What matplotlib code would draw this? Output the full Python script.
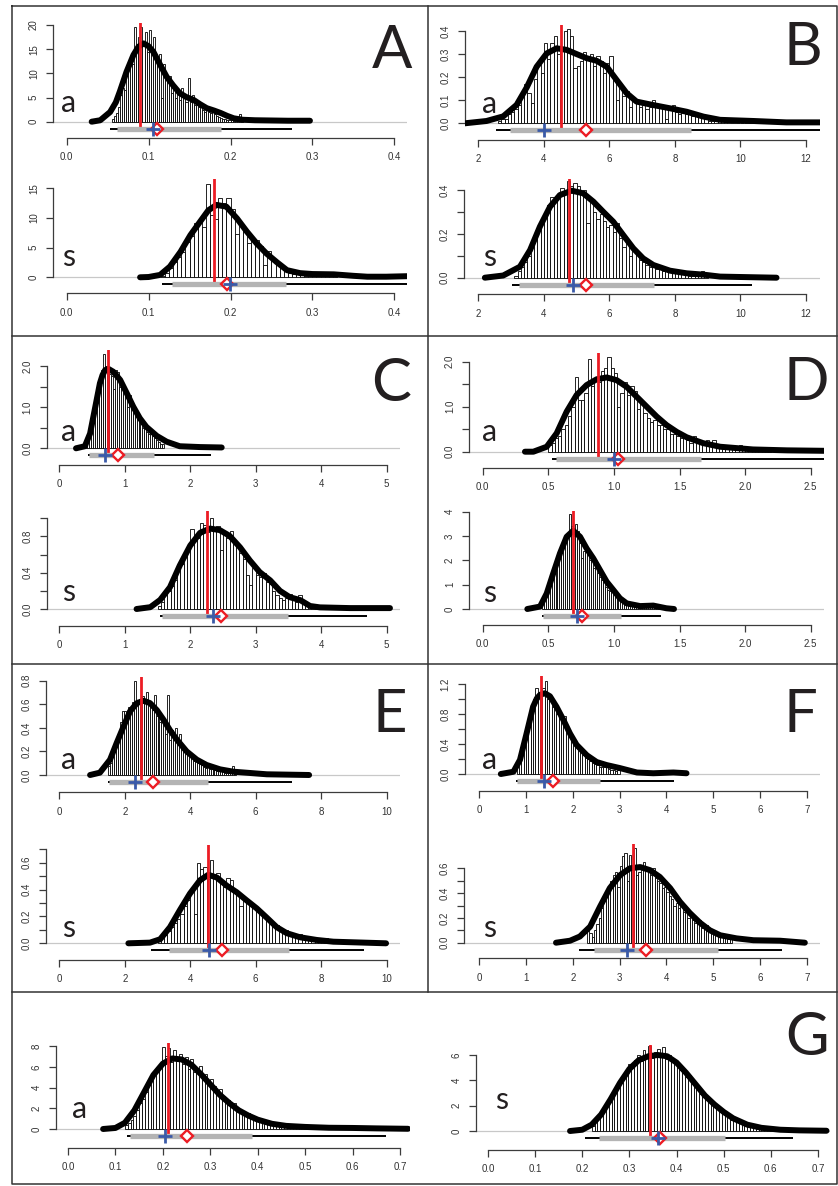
import matplotlib
matplotlib.use("Agg")
import matplotlib.pyplot as plt

plt.rcParams['font.family'] = ['Liberation Sans', 'DejaVu Sans']

W, H = 838, 1186

# ---------------- histograms: first bin edge, bin width, bar heights ----------------
Aa_start, Aa_width = 0.055, 0.0025
Aa_heights = [0.5, 1.2, 1.8, 3.0, 5.5, 7.0, 6.5, 9.5, 11.0, 13.0,
              12.0, 19.5, 15.0, 17.5, 19.5, 16.0, 18.5, 14.5, 19.0, 15.0,
              17.5, 13.0, 12.5, 14.0, 5.0, 12.0, 9.0, 8.5, 9.5, 6.0,
              7.5, 5.0, 6.5, 4.5, 7.0, 5.5, 4.0, 9.0, 4.0, 5.5,
              3.5, 4.5, 3.0, 3.0, 2.5, 2.0, 2.5, 2.0, 1.8, 2.2,
              1.5, 1.2, 1.0, 0.8, 0.6, 0.5, 0.4, 0.3, 0.3, 0.2,
              0.2, 0.1, 1.5, 0.2]
As_start, As_width = 0.115, 0.005
As_heights = [0.2, 0.8, 1.5, 2.5, 3.5, 4.2, 6.0, 7.0, 9.2, 9.5,
              8.4, 15.8, 10.5, 9.8, 13.3, 12.5, 13.3, 11.5, 7.3, 9.0,
              8.0, 5.7, 6.7, 6.3, 5.2, 2.0, 4.4, 3.0, 2.5, 1.5,
              1.0, 0.8, 0.5, 0.5, 0.4, 0.3, 0.3, 0.2, 0.3, 0.2,
              0.2, 0.2, 0.5]
Ba_start, Ba_width = 2.6, 0.1
Ba_heights = [0.01, 0.02, 0.02, 0.04, 0.05, 0.06, 0.08, 0.12, 0.17, 0.13,
              0.09, 0.19, 0.26, 0.22, 0.35, 0.28, 0.35, 0.38, 0.30, 0.33,
              0.40, 0.41, 0.38, 0.24, 0.25, 0.27, 0.31, 0.29, 0.30, 0.25,
              0.29, 0.27, 0.22, 0.26, 0.29, 0.20, 0.10, 0.17, 0.12, 0.14,
              0.07, 0.10, 0.09, 0.07, 0.08, 0.06, 0.07, 0.10, 0.07, 0.08,
              0.06, 0.02, 0.07, 0.08, 0.05, 0.04, 0.06, 0.04, 0.05, 0.03,
              0.03, 0.03, 0.03, 0.02, 0.01, 0.01, 0.01, 0.01, 0.01, 0.01,
              0.01, 0.0, 0.01, 0.0, 0.0, 0.0, 0.02, 0.01, 0.0, 0.02]
Bs_start, Bs_width = 3.1, 0.1
Bs_heights = [0.01, 0.03, 0.05, 0.07, 0.10, 0.14, 0.18, 0.22, 0.25, 0.29,
              0.33, 0.37, 0.36, 0.37, 0.41, 0.40, 0.44, 0.42, 0.43, 0.42,
              0.38, 0.40, 0.25, 0.35, 0.30, 0.27, 0.29, 0.26, 0.23, 0.24,
              0.21, 0.25, 0.18, 0.14, 0.16, 0.10, 0.13, 0.12, 0.08, 0.07,
              0.06, 0.05, 0.05, 0.04, 0.04, 0.03, 0.03, 0.03, 0.02, 0.03,
              0.02, 0.02, 0.02, 0.01, 0.01, 0.01, 0.01, 0.03, 0.01]
Ca_start, Ca_width = 0.4, 0.03
Ca_heights = [0.1, 0.3, 0.5, 0.8, 1.0, 1.3, 1.5, 1.7, 1.9, 2.3,
              2.0, 1.9, 1.8, 1.75, 1.45, 1.9, 1.85, 1.5, 1.5, 1.35,
              1.3, 1.0, 1.3, 1.0, 0.85, 0.9, 0.7, 0.75, 0.6, 0.5,
              0.5, 0.4, 0.35, 0.35, 0.3, 0.25, 0.2, 0.15, 0.1, 0.1]
Cs_start, Cs_width = 1.5, 0.05
Cs_heights = [0.03, 0.08, 0.15, 0.2, 0.25, 0.32, 0.42, 0.5, 0.6, 0.7,
              0.88, 0.8, 0.78, 0.95, 0.93, 0.85, 1.0, 0.88, 0.92, 0.65,
              0.85, 0.78, 0.86, 0.72, 0.7, 0.62, 0.55, 0.38, 0.26, 0.45,
              0.37, 0.35, 0.4, 0.3, 0.28, 0.2, 0.15, 0.12, 0.1, 0.12,
              0.17, 0.1, 0.08, 0.15, 0.06, 0.04, 0.03, 0.02, 0.02, 0.01,
              0.01, 0.01, 0.02]
Da_start, Da_width = 0.5, 0.025
Da_heights = [0.15, 0.2, 0.3, 0.35, 0.5, 0.6, 0.8, 1.0, 1.65, 1.15,
              1.15, 1.3, 2.05, 1.45, 1.6, 1.55, 1.8, 1.85, 2.1, 1.85,
              1.75, 1.0, 1.3, 1.55, 1.25, 1.45, 1.35, 0.95, 1.1, 0.85,
              0.75, 0.65, 0.7, 0.6, 0.6, 0.5, 0.5, 0.4, 0.4, 0.35,
              0.3, 0.3, 0.25, 0.2, 0.35, 0.25, 0.2, 0.15, 0.25, 0.12,
              0.25, 0.1, 0.12, 0.08, 0.08, 0.06, 0.06, 0.05, 0.15, 0.05,
              0.04, 0.03, 0.03, 0.03, 0.02, 0.02, 0.02, 0.08]
Ds_start, Ds_width = 0.45, 0.015
Ds_heights = [0.3, 0.4, 0.6, 0.8, 1.0, 1.3, 1.5, 1.8, 2.0, 2.3,
              2.5, 2.8, 2.8, 3.0, 3.9, 3.4, 3.0, 3.5, 3.2, 2.7,
              2.1, 2.4, 2.4, 2.3, 2.0, 2.1, 1.7, 1.8, 1.5, 1.3,
              1.2, 1.1, 0.9, 0.8, 0.75, 0.7, 0.6, 0.5, 0.55, 0.4,
              0.35, 0.3, 0.3, 0.25, 0.3, 0.2, 0.2, 0.25, 0.15, 0.15,
              0.15, 0.12, 0.12, 0.12, 0.1, 0.1, 0.15, 0.1, 0.08, 0.05]
Ea_start, Ea_width = 1.5, 0.06
Ea_heights = [0.08, 0.1, 0.15, 0.2, 0.28, 0.35, 0.45, 0.54, 0.54, 0.5,
              0.58, 0.55, 0.62, 0.8, 0.6, 0.62, 0.58, 0.67, 0.62, 0.7,
              0.6, 0.62, 0.55, 0.68, 0.5, 0.55, 0.45, 0.5, 0.42, 0.35,
              0.68, 0.3, 0.38, 0.3, 0.4, 0.28, 0.35, 0.25, 0.22, 0.2,
              0.18, 0.16, 0.17, 0.12, 0.12, 0.1, 0.09, 0.1, 0.07, 0.06,
              0.1, 0.05, 0.05, 0.04, 0.04, 0.03, 0.03, 0.06, 0.03, 0.02,
              0.02, 0.02, 0.02, 0.08, 0.01]
Es_start, Es_width = 3.0, 0.1
Es_heights = [0.02, 0.04, 0.06, 0.09, 0.12, 0.15, 0.18, 0.22, 0.28, 0.32,
              0.4, 0.22, 0.6, 0.55, 0.57, 0.48, 0.62, 0.5, 0.52, 0.45,
              0.42, 0.49, 0.47, 0.4, 0.38, 0.28, 0.33, 0.3, 0.3, 0.26,
              0.25, 0.22, 0.2, 0.18, 0.16, 0.14, 0.14, 0.1, 0.09, 0.1,
              0.07, 0.06, 0.05, 0.07, 0.04, 0.04, 0.03, 0.03, 0.02, 0.02,
              0.02, 0.04, 0.01, 0.01, 0.01, 0.01, 0.01, 0.01, 0.01, 0.01,
              0.01, 0.02, 0.01, 0.01]
Fa_start, Fa_width = 0.8, 0.05
Fa_heights = [0.1, 0.2, 0.3, 0.45, 0.55, 0.7, 0.9, 1.0, 1.15, 1.05,
              1.1, 1.15, 1.25, 1.0, 0.98, 0.9, 0.88, 0.8, 0.78, 0.75,
              0.78, 0.6, 0.55, 0.5, 0.45, 0.38, 0.35, 0.3, 0.25, 0.22,
              0.2, 0.18, 0.15, 0.14, 0.12, 0.1, 0.1, 0.09, 0.13, 0.07,
              0.06, 0.05, 0.04, 0.05]
Fs_start, Fs_width = 2.3, 0.05
Fs_heights = [0.12, 0.08, 0.05, 0.1, 0.15, 0.2, 0.28, 0.35, 0.42, 0.45,
              0.5, 0.55, 0.57, 0.45, 0.62, 0.7, 0.72, 0.5, 0.71, 0.6,
              0.76, 0.55, 0.57, 0.6, 0.65, 0.58, 0.6, 0.55, 0.6, 0.52,
              0.5, 0.48, 0.44, 0.45, 0.41, 0.38, 0.35, 0.3, 0.32, 0.28,
              0.3, 0.25, 0.28, 0.2, 0.25, 0.18, 0.16, 0.15, 0.18, 0.12,
              0.11, 0.14, 0.1, 0.09, 0.1, 0.07, 0.06, 0.06, 0.05, 0.04,
              0.03, 0.03]
Ga_start, Ga_width = 0.12, 0.006
Ga_heights = [0.4, 0.6, 0.9, 1.3, 1.8, 2.5, 2.9, 3.6, 4.2, 4.6,
              5.2, 5.5, 6.2, 7.9, 7.0, 7.8, 6.5, 7.6, 6.8, 7.2,
              6.3, 6.9, 5.8, 6.7, 5.5, 5.9, 6.1, 5.0, 5.3, 4.6,
              4.8, 4.1, 3.8, 3.9, 3.2, 3.0, 2.8, 2.3, 2.5, 1.9,
              1.8, 1.6, 1.3, 1.5, 1.1, 1.0, 0.9, 0.8, 1.0, 0.6,
              0.6, 0.5, 0.5, 0.4, 0.5, 0.3, 0.3, 0.3, 0.3, 0.2,
              0.2, 0.2, 0.2, 0.2, 0.1, 0.2, 0.1, 0.1, 0.1, 0.1,
              0.1, 0.1, 0.1, 0.1, 0.1, 0.1, 0.0, 0.1, 0.0, 0.1]
Gs_start, Gs_width = 0.22, 0.006
Gs_heights = [0.4, 0.7, 1.0, 1.3, 1.7, 2.1, 2.5, 2.9, 3.3, 3.7,
              4.0, 4.6, 4.8, 5.3, 5.2, 5.6, 6.0, 5.5, 6.4, 6.0,
              6.7, 5.8, 6.2, 6.5, 5.9, 6.6, 5.7, 6.0, 5.5, 5.3,
              5.2, 4.8, 4.6, 4.3, 4.4, 3.8, 3.5, 3.3, 2.9, 2.8,
              2.5, 2.3, 2.1, 1.9, 1.7, 1.5, 1.4, 1.2, 1.1, 0.9,
              0.8, 0.7, 0.6, 0.5, 0.5, 0.4, 0.3, 0.3, 0.3, 0.2,
              0.2, 0.2, 0.1, 0.1, 0.1, 0.1, 0.1, 0.1, 0.1, 0.1,
              0.1, 0.1]

# ---------------- density curves ----------------
Aa_curve_x = [0.0305, 0.041, 0.053, 0.060, 0.065, 0.073, 0.0815, 0.0876, 0.094, 0.100, 0.106, 0.114,
              0.122, 0.130, 0.138, 0.146, 0.155, 0.163, 0.171, 0.180, 0.188, 0.196, 0.204, 0.215,
              0.230, 0.250, 0.270, 0.297]
Aa_curve_y = [0.0, 0.3, 2.0, 4.0, 6.3, 10.3, 13.8, 15.5, 16.2, 15.6, 14.4, 11.8,
              9.3, 7.5, 5.9, 5.1, 4.5, 3.6, 2.8, 2.3, 1.8, 1.2, 0.7, 0.4,
              0.3, 0.25, 0.2, 0.2]
As_curve_x = [0.0896, 0.10, 0.114, 0.126, 0.139, 0.151, 0.163, 0.173, 0.183, 0.195, 0.208, 0.220,
              0.232, 0.244, 0.257, 0.269, 0.285, 0.30, 0.326, 0.35, 0.367, 0.39, 0.42]
As_curve_y = [0.0, 0.05, 0.4, 1.8, 4.3, 7.1, 9.4, 11.3, 12.2, 11.9, 9.9, 7.7,
              5.7, 4.0, 2.5, 1.2, 0.7, 0.55, 0.5, 0.25, 0.1, 0.1, 0.2]
Ba_curve_x = [1.59, 2.25, 2.76, 3.17, 3.48, 3.78, 4.09, 4.39, 4.70, 5.0, 5.31, 5.61,
              5.92, 6.22, 6.53, 6.83, 7.34, 7.85, 8.36, 8.87, 9.38, 10.4, 11.4, 12.5]
Ba_curve_y = [0.0, 0.01, 0.03, 0.08, 0.156, 0.245, 0.303, 0.325, 0.318, 0.30, 0.282, 0.271,
              0.245, 0.188, 0.13, 0.094, 0.079, 0.065, 0.05, 0.029, 0.015, 0.01, 0.004, 0.004]
Bs_curve_x = [2.2, 2.76, 3.27, 3.58, 3.88, 4.19, 4.49, 4.85, 5.2, 5.51, 5.81, 6.12,
              6.42, 6.73, 7.03, 7.34, 7.85, 8.36, 8.87, 9.38, 10.4, 11.1]
Bs_curve_y = [0.0, 0.01, 0.05, 0.126, 0.233, 0.324, 0.377, 0.397, 0.385, 0.347, 0.301, 0.255,
              0.195, 0.134, 0.088, 0.058, 0.032, 0.02, 0.014, 0.005, 0.002, 0.0]
Ca_curve_x = [0.255, 0.39, 0.47, 0.55, 0.62, 0.66, 0.70, 0.75, 0.825, 0.93, 1.03, 1.13, 1.23,
              1.33, 1.49, 1.64, 1.84, 2.15, 2.48]
Ca_curve_y = [0.0, 0.05, 0.36, 1.01, 1.58, 1.78, 1.9, 1.93, 1.86, 1.66, 1.34, 1.01, 0.73,
              0.52, 0.3, 0.16, 0.05, 0.03, 0.02]
Cs_curve_x = [1.18, 1.39, 1.54, 1.69, 1.84, 2.0, 2.15, 2.30, 2.45, 2.6, 2.76, 2.91,
              3.06, 3.22, 3.37, 3.52, 3.68, 3.83, 3.98, 4.44, 5.05]
Cs_curve_y = [0.0, 0.02, 0.1, 0.24, 0.48, 0.70, 0.84, 0.887, 0.87, 0.807, 0.68, 0.535,
              0.407, 0.316, 0.2, 0.13, 0.098, 0.033, 0.018, 0.01, 0.01]
Da_curve_x = [0.322, 0.386, 0.488, 0.564, 0.64, 0.716, 0.792, 0.869, 0.945, 1.021, 1.098, 1.174,
              1.25, 1.326, 1.402, 1.479, 1.555, 1.68, 1.81, 2.06, 2.32, 2.6]
Da_curve_y = [0.0, 0.0, 0.11, 0.41, 0.89, 1.26, 1.48, 1.61, 1.65, 1.59, 1.44, 1.22,
              1.0, 0.78, 0.59, 0.44, 0.32, 0.19, 0.11, 0.05, 0.03, 0.02]
Ds_curve_x = [0.34, 0.437, 0.488, 0.538, 0.589, 0.64, 0.69, 0.742, 0.792, 0.843, 0.894, 0.945,
              0.996, 1.046, 1.098, 1.2, 1.3, 1.4, 1.458]
Ds_curve_y = [0.0, 0.1, 0.64, 1.47, 2.29, 2.97, 3.22, 2.97, 2.49, 2.08, 1.6, 1.12,
              0.78, 0.44, 0.23, 0.12, 0.14, 0.03, 0.0]
Ea_curve_x = [0.94, 1.24, 1.55, 1.75, 1.96, 2.16, 2.37, 2.57, 2.77, 2.98, 3.18, 3.38,
              3.59, 3.89, 4.2, 4.5, 4.91, 5.32, 6.34, 7.63]
Ea_curve_y = [0.0, 0.02, 0.13, 0.27, 0.41, 0.54, 0.61, 0.63, 0.61, 0.55, 0.47, 0.38,
              0.30, 0.2, 0.13, 0.085, 0.048, 0.028, 0.006, 0.0]
Es_curve_x = [2.11, 2.77, 3.08, 3.38, 3.69, 3.99, 4.3, 4.55, 4.81, 5.11, 5.42, 5.72,
              6.03, 6.34, 6.64, 6.95, 7.35, 7.86, 8.37, 9.98]
Es_curve_y = [0.0, 0.005, 0.03, 0.12, 0.25, 0.37, 0.47, 0.51, 0.49, 0.43, 0.38, 0.32,
              0.26, 0.19, 0.12, 0.075, 0.045, 0.025, 0.012, 0.0]
Fa_curve_x = [0.46, 0.73, 0.87, 1.01, 1.15, 1.23, 1.30, 1.40, 1.51, 1.65, 1.80, 1.94, 2.08,
              2.30, 2.51, 2.72, 3.0, 3.37, 3.72, 4.15, 4.43]
Fa_curve_y = [0.0, 0.03, 0.19, 0.54, 0.9, 1.01, 1.06, 1.08, 1.04, 0.9, 0.72, 0.54, 0.39,
              0.25, 0.16, 0.12, 0.08, 0.02, 0.01, 0.02, 0.01]
Fs_curve_x = [1.64, 1.94, 2.15, 2.37, 2.58, 2.79, 3.01, 3.22, 3.44, 3.65, 3.86, 4.08,
              4.29, 4.5, 4.72, 4.93, 5.15, 5.5, 5.86, 6.43, 6.96]
Fs_curve_y = [0.0, 0.016, 0.05, 0.13, 0.29, 0.44, 0.545, 0.6, 0.61, 0.585, 0.53, 0.44,
              0.33, 0.24, 0.16, 0.10, 0.06, 0.035, 0.02, 0.016, 0.0]
Ga_curve_x = [0.074, 0.1, 0.12, 0.14, 0.16, 0.18, 0.2, 0.22, 0.24, 0.26, 0.28, 0.3,
              0.32, 0.34, 0.36, 0.38, 0.4, 0.43, 0.46, 0.5, 0.55, 0.6, 0.65, 0.717]
Ga_curve_y = [0.0, 0.1, 0.6, 1.8, 3.5, 5.2, 6.3, 6.8, 6.7, 6.2, 5.3, 4.3,
              3.3, 2.5, 1.8, 1.3, 0.9, 0.5, 0.3, 0.2, 0.12, 0.1, 0.06, 0.02]
Gs_curve_x = [0.174, 0.2, 0.22, 0.24, 0.26, 0.28, 0.3, 0.32, 0.34, 0.36, 0.38, 0.4,
              0.42, 0.44, 0.46, 0.48, 0.5, 0.52, 0.55, 0.58, 0.62, 0.66, 0.718]
Gs_curve_y = [0.0, 0.1, 0.5, 1.3, 2.5, 3.8, 4.9, 5.6, 5.9, 6.0, 5.9, 5.4,
              4.6, 3.7, 2.8, 2.1, 1.5, 1.0, 0.5, 0.25, 0.1, 0.05, 0.02]

# ---------------- summary statistics (order Aa As Ba Bs Ca Cs Da Ds Ea Es Fa Fs Ga Gs) ----------------
keys = ['Aa', 'As', 'Ba', 'Bs', 'Ca', 'Cs', 'Da', 'Ds', 'Ea', 'Es', 'Fa', 'Fs', 'Ga', 'Gs']
red_line_x = [0.0896, 0.1796, 4.51, 4.77, 0.75, 2.26, 0.881, 0.688, 2.51, 4.54, 1.31, 3.29, 0.211, 0.344]
plus_x = [0.105, 0.1996, 4.0, 4.90, 0.70, 2.34, 1.0, 0.716, 2.31, 4.58, 1.39, 3.16, 0.204, 0.361]
diamond_x = [0.110, 0.1955, 5.29, 5.28, 0.89, 2.47, 1.034, 0.754, 2.85, 4.96, 1.58, 3.56, 0.25, 0.365]
grey_lo = [0.0615, 0.128, 2.97, 3.25, 0.46, 1.57, 0.559, 0.462, 1.53, 3.36, 0.81, 2.46, 0.13, 0.236]
grey_hi = [0.188, 0.268, 8.48, 7.36, 1.45, 3.50, 1.664, 1.054, 4.55, 7.03, 2.58, 5.10, 0.388, 0.503]
black_lo = [0.053, 0.116, 2.54, 3.03, 0.44, 1.54, 0.526, 0.45, 1.5, 2.79, 0.78, 2.14, 0.124, 0.206]
black_hi = [0.275, 0.45, 13.0, 10.34, 2.31, 4.70, 2.7, 1.357, 7.10, 9.31, 4.16, 6.47, 0.67, 0.648]

# ---------------- axis ticks ----------------
A_xticks = ['0.0', '0.1', '0.2', '0.3', '0.4']
B_xticks = ['2', '4', '6', '8', '10', '12']
C_xticks = ['0', '1', '2', '3', '4', '5']
D_xticks = ['0.0', '0.5', '1.0', '1.5', '2.0', '2.5']
E_xticks = ['0', '2', '4', '6', '8', '10']
F_xticks = ['0', '1', '2', '3', '4', '5', '6', '7']
G_xticks = ['0.0', '0.1', '0.2', '0.3', '0.4', '0.5', '0.6', '0.7']
yticks = {
    'Aa': ['0', '5', '10', '15', '20'],
    'As': ['0', '5', '10', '15'],
    'Ba': ['0.0', '0.1', '0.2', '0.3', '0.4'],
    'Bs': ['0.0', '0.1', '0.2', '0.3', '0.4'],
    'Ca': ['0.0', '0.5', '1.0', '1.5', '2.0'],
    'Cs': ['0.0', '0.2', '0.4', '0.6', '0.8', '1.0'],
    'Da': ['0.0', '0.5', '1.0', '1.5', '2.0'],
    'Ds': ['0', '1', '2', '3', '4'],
    'Ea': ['0.0', '0.2', '0.4', '0.6', '0.8'],
    'Es': ['0.0', '0.1', '0.2', '0.3', '0.4', '0.5', '0.6', '0.7'],
    'Fa': ['0.0', '0.2', '0.4', '0.6', '0.8', '1.0', '1.2'],
    'Fs': ['0.0', '0.1', '0.2', '0.3', '0.4', '0.5', '0.6'],
    'Ga': ['0', '2', '4', '6', '8'],
    'Gs': ['0', '2', '4', '6'],
}
# labels R kept (others are unlabeled ticks)
ylabel_shown = {
    'Bs': ['0.0', '0.2', '0.4'], 'Ca': ['0.0', '1.0', '2.0'], 'Cs': ['0.0', '0.4', '0.8'],
    'Da': ['0.0', '1.0', '2.0'], 'Es': ['0.0', '0.2', '0.4', '0.6'],
    'Fa': ['0.0', '0.4', '0.8', '1.2'], 'Fs': ['0.0', '0.2', '0.4', '0.6'],
}
xticks = {'A': A_xticks, 'B': B_xticks, 'C': C_xticks, 'D': D_xticks,
          'E': E_xticks, 'F': F_xticks, 'G': G_xticks}

# ---------------- layout in pixels ----------------
# left, right, x-axis y, first x-tick px, last x-tick px, y=0 px, top y-tick px, top px, label x, label baseline
layout = {
    'Aa': (53.3, 407, 137.7, 66.7, 394.3, 121.7, 25.0, 23.3, 61, 112.5),
    'As': (53.3, 407, 293.3, 66.7, 394.3, 277.3, 188.3, 179, 62, 266),
    'Ba': (465, 820, 140, 478.3, 806, 123.3, 31, 25, 482, 112.7),
    'Bs': (464.3, 820, 294.3, 478.3, 806, 277.7, 190, 179.3, 483, 266),
    'Ca': (46.7, 400, 465, 59.3, 386.7, 448.3, 366, 350, 61, 441),
    'Cs': (46.7, 400, 625.7, 59.3, 386.7, 609, 518.3, 510.7, 62, 601),
    'Da': (469.3, 824, 467.7, 482.7, 810.7, 451.7, 361.7, 353.3, 482, 441),
    'Ds': (469.3, 824, 625, 482.7, 810.7, 609, 511.7, 510.7, 483, 601.7),
    'Ea': (46, 400, 792.3, 59.3, 386.7, 775, 680.7, 676.7, 61, 769),
    'Es': (46, 400, 960, 59.3, 386.7, 943.3, 849.3, 845, 62, 936.7),
    'Fa': (465, 820, 791, 479.3, 806.7, 774, 684.3, 675.7, 482, 769),
    'Fs': (464.3, 820, 958.3, 479.3, 806.7, 942.7, 868.3, 844, 483, 937.3),
    'Ga': (56, 410, 1148, 68, 400, 1129, 1046, 1043, 72, 1118),
    'Gs': (476, 830, 1150, 488, 818, 1131, 1055, 1045, 495, 1109),
}
letter_pos = {'A': (392, 68), 'B': (803, 65), 'C': (391, 401), 'D': (806, 400),
              'E': (390, 732), 'F': (800, 732), 'G': (807, 1055)}

RED = '#ec1c24'
BLUE = '#3a5aa8'
LETTER_FONT = ['Lato', 'Open Sans', 'DejaVu Sans']

fig = plt.figure(figsize=(W / 100, H / 100), dpi=100)
bg = fig.add_axes([0, 0, 1, 1])
bg.set_xlim(0, W)
bg.set_ylim(H, 0)
bg.axis('off')

# panel frame
fc = '#333333'
bg.plot([11.5, 836.5, 836.5, 11.5, 11.5], [6, 6, 1183.5, 1183.5, 6], color=fc, lw=1.1)
for yy in (336, 663.5, 992):
    bg.plot([11.5, 836.5], [yy, yy], color=fc, lw=1.1)
bg.plot([428, 428], [6, 992], color=fc, lw=1.1)

for letter, (lx, ly) in letter_pos.items():
    bg.text(lx, ly, letter, fontsize=43, ha='center', va='baseline',
            family=LETTER_FONT, fontweight='normal', color='#231f20')


def draw(i, key):
    left, right, xline, xt0, xt1, y0, ytp, top, labx, laby = layout[key]
    xlab = xticks[key[0]]
    xv = [float(s) for s in xlab]
    ylab = yticks[key]
    yv = [float(s) for s in ylab]
    sx = (xt1 - xt0) / (xv[-1] - xv[0])
    sy = (y0 - ytp) / yv[-1]

    ax = fig.add_axes([left / W, 1 - xline / H, (right - left) / W, (xline - top) / H])
    ax.patch.set_visible(False)
    ax.set_xlim(xv[0] + (left - xt0) / sx, xv[0] + (right - xt0) / sx)
    ytop = (y0 - top) / sy
    ax.set_ylim(-(xline - y0) / sy, ytop)

    start = globals()[key + '_start']
    width = globals()[key + '_width']
    heights = globals()[key + '_heights']
    edges = [start + k * width for k in range(len(heights))]

    ax.axhline(0, color='#c8c8c8', lw=0.9, zorder=1)
    ax.bar(edges, heights, width=width, align='edge', color='white',
           edgecolor='black', linewidth=0.6, zorder=2)
    ax.plot(globals()[key + '_curve_x'], globals()[key + '_curve_y'], color='black', lw=4.3,
            solid_capstyle='round', solid_joinstyle='round', zorder=3)

    row = -7.0 / sy
    ax.plot([red_line_x[i]] * 2, [-4.5 / sy, ytop], color=RED, lw=2, zorder=4)
    ax.plot([black_lo[i], black_hi[i]], [row, row], color='black', lw=1.4,
            solid_capstyle='butt', zorder=4)
    ax.plot([grey_lo[i], grey_hi[i]], [row, row], color='#b4b4b4', lw=3.8,
            solid_capstyle='butt', zorder=5)
    ax.plot([diamond_x[i]], [row], marker='D', ms=6, mfc='white', mec=RED, mew=1.7,
            zorder=6, clip_on=False)
    ax.plot([plus_x[i]], [row], marker='+', ms=9.5, mew=2, color=BLUE, zorder=7, clip_on=False)

    for s in ('top', 'right'):
        ax.spines[s].set_visible(False)
    ax.spines['left'].set_bounds(0, yv[-1])
    ax.spines['bottom'].set_bounds(xv[0], xv[-1])
    for s in ('left', 'bottom'):
        ax.spines[s].set_color('#3c3c3c')
        ax.spines[s].set_linewidth(0.9)
    ax.set_xticks(xv)
    ax.set_xticklabels(xlab)
    shown = ylabel_shown.get(key, ylab)
    ax.set_yticks(yv)
    ax.set_yticklabels([s if s in shown else '' for s in ylab], rotation=90, va='center')
    ax.tick_params(direction='out', length=4.8, width=0.9, color='#3c3c3c',
                   labelsize=7, labelcolor='#333333', pad=5.5)

    bg.text(labx, laby, key[1], fontsize=22, ha='left', va='baseline',
            family=LETTER_FONT, fontweight='normal', color='#231f20')


for i, key in enumerate(keys):
    draw(i, key)

fig.savefig('out.png', dpi=100)
